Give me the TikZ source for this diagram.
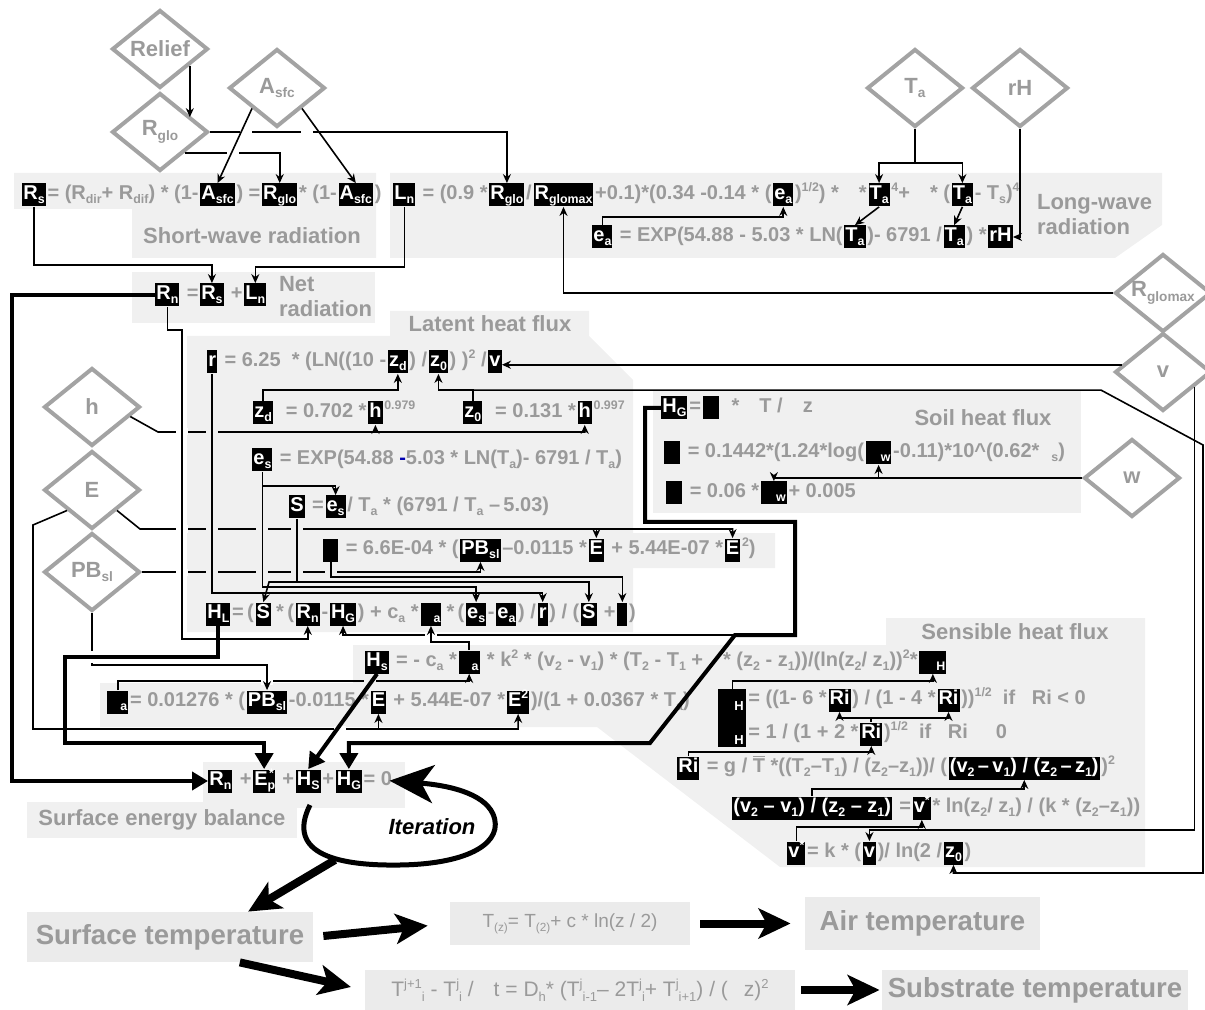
\documentclass[tikz,border=0pt]{standalone}
\usepackage{fontspec}
\setmainfont{Liberation Sans}
\usetikzlibrary{shapes.geometric,positioning,arrows.meta}
\definecolor{txtgray}{HTML}{9A9A9A}
\definecolor{diagray}{HTML}{A3A3A3}
\definecolor{panel}{HTML}{F0F0F0}
\definecolor{panelb}{HTML}{EBEBEB}
\newcommand{\sbs}[1]{\raisebox{-0.2em}{\scalebox{0.62}{#1}}}
\newcommand{\sps}[1]{\raisebox{0.42em}{\scalebox{0.62}{#1}}}
\newcommand{\eqfont}{\bfseries\fontsize{10}{12}\selectfont}
\newcommand{\tbar}{\setbox0\hbox{T}\rlap{\rule[\dimexpr\ht0+0.8pt\relax]{\wd0}{0.7pt}}T}
\newcommand{\bridgegap}[2][white]{\fill[#1] (#2) ++(-6,-3.5) rectangle ++(12,7);}
\newcommand{\bridgegapv}[2][white]{\fill[#1] (#2) ++(-3.5,-6) rectangle ++(7,12);}
\tikzstyle{input} = [diamond, draw=diagray, line width=2pt, minimum width=48pt, minimum height=39pt, inner sep=0pt, text=txtgray, font=\bfseries\fontsize{11}{13}\selectfont]
\tikzstyle{var} = [fill=black, text=white, font=\eqfont, inner sep=0pt, inner xsep=0.5pt, text height=8pt, text depth=3.5pt]
\tikzstyle{eq} = [text=txtgray, font=\eqfont, inner sep=0pt, inner xsep=0.5pt, text height=8pt, text depth=3.5pt]
\tikzstyle{title} = [text=txtgray, font=\bfseries\fontsize{11}{12.5}\selectfont, align=left]
\tikzstyle{outbox} = [fill=panelb, text=txtgray, inner sep=0pt]
\tikzstyle{link} = [line width=0.8pt]
\tikzstyle{arrow} = [line width=0.8pt, -{Stealth[length=4.5pt,width=4pt]}]
\tikzstyle{fat} = [line width=2pt, -{Triangle[length=8pt,width=9pt]}]
\tikzstyle{bigarrow} = [line width=4pt, -{Stealth[length=16pt,width=15pt,inset=4pt]}]

\begin{document}
\begin{tikzpicture}[x=0.5pt, y=-0.5pt, node distance=0pt]
  \useasboundingbox (0,0) rectangle (1205,1010);

  \fill[panel] (14,173) -- (376,173) -- (376,258) -- (132,258) -- (132,209) -- (14,209) -- cycle;
  \fill[panel] (390,173) -- (1162,173) -- (1162,225) -- (1115,258) -- (390,258) -- cycle;
  \fill[panel] (132,272) rectangle (375,323);
  \fill[panel] (187,336) -- (390,336) -- (390,311) -- (589,311) -- (589,336) -- (633,380) -- (633,533) -- (775,533) -- (775,568) -- (633,568) -- (633,632) -- (187,632) -- cycle;
  \fill[panel] (653,390) rectangle (1081,513);
  \fill[panel] (353,645) -- (886,645) -- (886,618) -- (1145,618) -- (1145,867) -- (780,867) -- (597,727) -- (100,727) -- (100,683) -- (353,683) -- cycle;
  \fill[panel] (203,762) rectangle (405,808);
  \fill[panel] (27,802) rectangle (297,838);

  \node[input] (relief) at (160,49) {\makebox[0pt]{Relief}};
  \node[input] (rglo) at (160,132) {R\sbs{glo}};
  \node[input] (asfc) at (277,88) {A\sbs{sfc}};
  \node[input] (ta) at (915,88) {T\sbs{a}};
  \node[input] (rh) at (1020,88) {rH};
  \node[input] (rgmax) at (1163,293) {\makebox[0pt]{R\sbs{glomax}}};
  \node[input] (vd) at (1163,372) {v};
  \node[input] (wd) at (1132,478) {w};
  \node[input] (hd) at (92,407) {h};
  \node[input] (ed) at (92,490) {E};
  \node[input] (pbd) at (92,572) {PB\sbs{sl}};

  \node[var, anchor=west] (rs) at (22,195) {R\sbs{s}};
  \node[eq, right=of rs] (rs1) {= (R\sbs{dir}+ R\sbs{dif}) * (1-};
  \node[var, right=of rs1] (asfcA) {A\sbs{sfc}};
  \node[eq, right=of asfcA] (rs2) {) =\ };
  \node[var, right=of rs2] (rgloA) {R\sbs{glo}};
  \node[eq, right=of rgloA] (rs3) {* (1-};
  \node[var, right=of rs3] (asfcB) {A\sbs{sfc}};
  \node[eq, right=of asfcB] (rs4) {)};
  \node[title] (swlbl) at (252,236) {Short-wave radiation};

  \node[var, anchor=west] (ln) at (393,195) {L\sbs{n}};
  \node[eq, right=of ln] (ln1) {\ = (0.9 *\ };
  \node[var, right=of ln1] (rgloB) {R\sbs{glo}};
  \node[eq, right=of rgloB] (ln2) {/\ };
  \node[var, right=of ln2] (rgmaxB) {R\sbs{glomax}};
  \node[eq, right=of rgmaxB] (ln3) {+0.1)*(0.34 -0.14 * (};
  \node[var, right=of ln3] (eaA) {e\sbs{a}};
  \node[eq, right=of eaA] (ln4) {)\sps{1/2}) *\hspace{10pt}*\ };
  \node[var, right=of ln4] (taA) {T\sbs{a}};
  \node[eq, right=of taA] (ln5) {\sps{4}+\hspace{10pt}* (};
  \node[var, right=of ln5] (taB) {T\sbs{a}};
  \node[eq, right=of taB] (ln6) {- T\sbs{s})\sps{4}};

  \node[var, anchor=west] (eaB) at (592,237) {e\sbs{a}};
  \node[eq, right=of eaB] (ea1) {\ = EXP(54.88 - 5.03 * LN(};
  \node[var, right=of ea1] (taC) {T\sbs{a}};
  \node[eq, right=of taC] (ea2) {)- 6791 /\ };
  \node[var, right=of ea2] (taD) {T\sbs{a}};
  \node[eq, right=of taD] (ea3) {) *\ };
  \node[var, right=of ea3] (rhv) {rH};
  \node[title, anchor=west] (lwlbl) at (1030,215) {Long-wave\\radiation};

  \node[var, anchor=west] (rnA) at (155,295) {R\sbs{n}};
  \node[eq, right=of rnA] (rn1) {\ =\ };
  \node[var, right=of rn1] (rsB) {R\sbs{s}};
  \node[eq, right=of rsB] (rn2) {\ +\ };
  \node[var, right=of rn2] (lnB) {L\sbs{n}};
  \node[title, anchor=west] (netlbl) at (272,297) {Net\\radiation};

  \node[title] (lhlbl) at (490,324) {Latent heat flux};
  \node[var, anchor=west] (rA) at (207,362) {r};
  \node[eq, right=of rA] (r1) {\ = 6.25\ \ * (LN((10 -};
  \node[var, right=of r1] (zdA) {z\sbs{d}};
  \node[eq, right=of zdA] (r2) {) /};
  \node[var, right=of r2] (z0A) {z\sbs{0}};
  \node[eq, right=of z0A] (r3) {) )\sps{2} /};
  \node[var, right=of r3] (vA) {v};

  \node[var, anchor=west] (zdB) at (253,413) {z\sbs{d}};
  \node[eq, right=of zdB] (zd1) {\ \ = 0.702 *\ };
  \node[var, right=of zd1] (hA) {h};
  \node[eq, right=of hA] (zd2) {\sps{0.979}};
  \node[var, anchor=west] (z0B) at (463,413) {z\sbs{0}};
  \node[eq, right=of z0B] (z01) {\ \ = 0.131 *\ };
  \node[var, right=of z01] (hB) {h};
  \node[eq, right=of hB] (z02) {\sps{0.997}};

  \node[var, anchor=west] (esA) at (252,460) {e\sbs{s}};
  \node[eq, right=of esA] (es1) {\ = EXP(54.88 {\color{blue!70!black}-}5.03 * LN(T\sbs{a})- 6791 / T\sbs{a})};

  \node[var, anchor=west] (sA) at (289,507) {S};
  \node[eq, right=of sA] (s1) {\ =\ };
  \node[var, right=of s1] (esB) {e\sbs{s}};
  \node[eq, right=of esB] (s2) {/ T\sbs{a} * (6791 / T\sbs{a} \textendash\,5.03)};

  \node[var, anchor=west, minimum width=7.5pt] (epsA) at (323,550) {};
  \node[eq, right=of epsA] (ep1) {\ = 6.6E-04 * (};
  \node[var, right=of ep1] (pbA) {PB\sbs{sl}};
  \node[eq, right=of pbA] (ep2) {\textendash0.0115 *\ };
  \node[var, right=of ep2] (eA) {E};
  \node[eq, right=of eA] (ep3) {\ + 5.44E-07 *\ };
  \node[var, right=of ep3] (e2A) {E};
  \node[eq, right=of e2A] (ep4) {\sps{2})};

  \node[var, anchor=west] (hl) at (206,614) {H\sbs{L}};
  \node[eq, right=of hl] (hl1) {=\,(};
  \node[var, right=of hl1] (sB) {S};
  \node[eq, right=of sB] (hl2) {\,*\,(};
  \node[var, right=of hl2] (rnB) {R\sbs{n}};
  \node[eq, right=of rnB] (hl3) {-};
  \node[var, right=of hl3] (hgA) {H\sbs{G}};
  \node[eq, right=of hgA] (hl4) {) + c\sbs{a} *\ };
  \node[var, right=of hl4] (rhoA) {\hspace{6pt}\sbs{a}};
  \node[eq, right=of rhoA] (hl5) {\,*\,(};
  \node[var, right=of hl5] (esC) {e\sbs{s}};
  \node[eq, right=of esC] (hl6) {-};
  \node[var, right=of hl6] (eaC) {e\sbs{a}};
  \node[eq, right=of eaC] (hl7) {) /};
  \node[var, right=of hl7] (rB) {r};
  \node[eq, right=of rB] (hl8) {) / (};
  \node[var, right=of hl8] (sC) {S};
  \node[eq, right=of sC] (hl9) {\ +\ };
  \node[var, right=of hl9, minimum width=5pt] (epsB) {};
  \node[eq, right=of epsB] (hl10) {)};

  \node[var, anchor=west] (hs) at (365,662) {H\sbs{s}};
  \node[eq, right=of hs] (hs1) {\ = - c\sbs{a} *\ };
  \node[var, right=of hs1] (rhoB) {\hspace{6pt}\sbs{a}};
  \node[eq, right=of rhoB] (hs2) {\ * k\sps{2} * (v\sbs{2} - v\sbs{1}) * (T\sbs{2} - T\sbs{1} +\hspace{10pt}* (z\sbs{2} - z\sbs{1}))/(ln(z\sbs{2}/ z\sbs{1}))\sps{2}*\ };
  \node[var, right=of hs2] (phiA) {\hspace{8pt}\sbs{H}};

  \node[var, anchor=west] (rhoC) at (107,702) {\hspace{6pt}\sbs{a}};
  \node[eq, right=of rhoC] (ro1) {= 0.01276 * (};
  \node[var, right=of ro1] (pbB) {PB\sbs{sl}};
  \node[eq, right=of pbB] (ro2) {-0.0115 *\ };
  \node[var, right=of ro2] (eB) {E};
  \node[eq, right=of eB] (ro3) {\ + 5.44E-07 *\ };
  \node[var, right=of ro3] (e2B) {E\sps{2}};
  \node[eq, right=of e2B] (ro4) {)/(1 + 0.0367 * T\sbs{a})};

  \node[title] (senlbl) at (1015,632) {Sensible heat flux};
  \node[var, anchor=north west, minimum width=14pt, minimum height=29pt] (phiB) at (718,689) {};
  \node[text=white, font=\bfseries\fontsize{6.5}{7}\selectfont, inner sep=0pt] (phiH1) at (739,706) {H};
  \node[text=white, font=\bfseries\fontsize{6.5}{7}\selectfont, inner sep=0pt] (phiH2) at (739,740) {H};
  \node[eq, anchor=west] (ph1) at (747,700) {= ((1- 6 *\ };
  \node[var, right=of ph1] (riA) {Ri};
  \node[eq, right=of riA] (ph2) {) / (1 - 4 *\ };
  \node[var, right=of ph2] (riB) {Ri};
  \node[eq, right=of riB] (ph3) {))\sps{1/2}\ \ if\ \ \ Ri < 0};
  \node[eq, anchor=west] (ph4) at (747,734) {= 1 / (1 + 2 *\ };
  \node[var, right=of ph4] (riC) {Ri};
  \node[eq, right=of riC] (ph5) {)\sps{1/2}\ \ if\ \ \ Ri\hspace{14pt}0};

  \node[var, anchor=west] (riD) at (677,768) {Ri};
  \node[eq, right=of riD] (ri1) {\ = g / \tbar\ *((T\sbs{2}\textendash T\sbs{1}) / (z\sbs{2}\textendash z\sbs{1}))/ (};
  \node[var, right=of ri1] (dvA) {(v\sbs{2}\,\textendash\,v\sbs{1}) / (z\sbs{2}\,\textendash\,z\sbs{1})};
  \node[eq, right=of dvA] (ri2) {)\sps{2}};

  \node[var, anchor=west] (dvB) at (732,808) {(v\sbs{2} \textendash\ v\sbs{1}) / (z\sbs{2} \textendash\ z\sbs{1})};
  \node[eq, right=of dvB] (dv1) {\ =\ };
  \node[var, right=of dv1] (vsA) {v\sps{*}};
  \node[eq, right=of vsA] (dv2) {* ln(z\sbs{2}/ z\sbs{1}) / (k * (z\sbs{2}\textendash z\sbs{1}))};

  \node[var, anchor=west] (vsB) at (787,853) {v\sps{*}};
  \node[eq, right=of vsB] (vs1) {= k * (};
  \node[var, right=of vs1] (vB) {v};
  \node[eq, right=of vB] (vs2) {)/ ln(2 /\ };
  \node[var, right=of vs2] (z0C) {z\sbs{0}};
  \node[eq, right=of z0C] (vs3) {)};

  \node[var, anchor=west] (hgB) at (661,408) {H\sbs{G}};
  \node[eq, right=of hgB] (hg1) {=};
  \node[var, right=of hg1, minimum width=8pt] (lamA) {};
  \node[eq, right=of lamA] (hg2) {\ \ *\hspace{10pt}T /\hspace{10pt}z};
  \node[title] (shlbl) at (983,418) {Soil heat flux};
  \node[var, anchor=west, minimum width=8pt] (lamB) at (664,453) {};
  \node[eq, right=of lamB] (la1) {\ = 0.1442*(1.24*log(};
  \node[var, right=of la1] (thA) {\hspace{7pt}\sbs{w}};
  \node[eq, right=of thA] (la2) {-0.11)*10\textasciicircum(0.62*\hspace{6pt}\sbs{s})};
  \node[var, anchor=west, minimum width=8pt] (cB) at (666,493) {};
  \node[eq, right=of cB] (c1) {\ = 0.06 *\ };
  \node[var, right=of c1] (thB) {\hspace{7pt}\sbs{w}};
  \node[eq, right=of thB] (c2) {+ 0.005};

  \node[var, anchor=west] (rnC) at (208,781) {R\sbs{n}};
  \node[eq, right=of rnC] (sb1) {\ +\ };
  \node[var, right=of sb1] (epC) {E\sbs{p}\kern-0.3em\sps{*}};
  \node[eq, right=of epC] (sb2) {\ +};
  \node[var, right=of sb2] (hsC) {H\sbs{S}};
  \node[eq, right=of hsC] (sb3) {+};
  \node[var, right=of sb3] (hgC) {H\sbs{G}};
  \node[eq, right=of hgC] (sb4) {= 0};
  \node[title, font=\bfseries\fontsize{11}{12}\selectfont] (seblbl) at (162,820) {Surface energy balance};
  \node[font=\bfseries\itshape\fontsize{11}{13}\selectfont] (iterlbl) at (432,827) {Iteration};

  \node[outbox, font=\bfseries\fontsize{13.8}{15}\selectfont, minimum width=143pt, minimum height=25pt] (surf) at (170,937) {Surface temperature};
  \node[outbox, font=\fontsize{9.5}{10}\selectfont, minimum width=120pt, minimum height=21.5pt] (tz) at (570,923.5) {T\sbs{(z)}= T\sbs{(2)}+ c * ln(z / 2)};
  \node[outbox, font=\bfseries\fontsize{13.8}{15}\selectfont, minimum width=117.5pt, minimum height=26.5pt] (air) at (922.5,923.5) {Air temperature};
  \node[outbox, font=\fontsize{10.5}{11}\selectfont, minimum width=215pt, minimum height=20pt] (tj) at (580,990) {T\sps{j+1}\sbs{i} - T\sps{j}\sbs{i} /\hspace{10pt}t = D\sbs{h}* (T\sps{j}\sbs{i-1}\textendash\ 2T\sps{j}\sbs{i}+ T\sps{j}\sbs{i+1}) / (\hspace{8pt}z)\sps{2}};
  \node[outbox, font=\bfseries\fontsize{13.8}{15}\selectfont, minimum width=153pt, minimum height=20pt] (sub) at (1035,990) {Substrate temperature};

  \coordinate (hgbend) at (735,635);
  \coordinate (loopstart) at (310,805);
  \coordinate (loopbot) at (335,860);

  \draw[arrow] (rglo.-40) -| (rgloA.north);
  \draw[arrow] (rglo.east) -| (rgloB.north);
  \draw[arrow] (hd.-14) -- (158,432) -| (hB.south);
  \draw[arrow] (hA.south |- 0,432) -- (hA.south);
  \draw[arrow] (ed.south east) -- (140,529) -| (e2A.north);
  \draw[arrow] (eA.north |- 0,529) -- (eA.north);
  \draw[arrow] (pbd.east) -| (pbA.south);
  \draw[arrow] (hgbend) -| (hgA.south);
  \draw[arrow] (rhoC.north) -- (rhoC.north |- 0,681) -| (rhoB.south);
  \draw[arrow] (ed.south west) -- (33,525) -- (33,729) -| (e2B.south);
  \draw[arrow] (eB.south |- 0,729) -- (eB.south);

  \bridgegap{246,132}
  \bridgegap{307,132}
  \bridgegap{233,152}
  \bridgegap{182,432}
  \bridgegap[panel]{rA.south |- 0,432}
  \bridgegap{182,529}
  \bridgegap[panel]{rA.south |- 0,529}
  \bridgegap[panel]{esA.south |- 0,529}
  \bridgegap[panel]{sA.south |- 0,529}
  \bridgegap{182,572}
  \bridgegap[panel]{rA.south |- 0,572}
  \bridgegap[panel]{esA.south |- 0,572}
  \bridgegap[panel]{sA.south |- 0,572}
  \bridgegap[panel]{epsA.south |- 0,572}
  \bridgegap{rhoA.south |- 0,635}
  \bridgegap{pbB.north |- 0,681}
  \bridgegap[panel]{370,681}
  \bridgegap{340,729}

  \draw[arrow] (pbd.south) -- (92,665) -| (pbB.north);
  \bridgegapv{92,657}
  \draw[arrow] (relief.-29) -- (relief.-29 |- rglo.25);
  \draw[arrow] (asfc.south west) -- (asfcA.north);
  \draw[arrow] (asfc.south east) -- (asfcB.north);
  \draw[arrow] (rs.south) -- (rs.south |- 0,265) -| (rsB.north);
  \draw[arrow] (ln.south) -- (ln.south |- 0,267) -| (lnB.north);
  \draw[link] (ta.south) -- ++(0,34) coordinate (tafork);
  \draw[arrow] (tafork) -| (taA.north);
  \draw[arrow] (tafork) -| (taB.north);
  \draw[arrow] (taA.south) -- (taC.north);
  \draw[arrow] (taB.south) -- (taD.north);
  \draw[arrow] (rh.south) |- (rhv.east);
  \draw[arrow] (eaB.north) -- ++(0,-8) -| (eaA.south);
  \draw[arrow] (rgmax.west) -| (rgmaxB.south);
  \draw[arrow] (rnA.south) -- (rnA.south |- 0,330) -- (182,330) |- (rnB.south |- 0,639) -- (rnB.south);
  \draw[arrow] (vd.170) -- (vd.170 -| vA.east);
  \draw[arrow] (zdB.north) -- ++(0,-11) -| (zdA.south);
  \draw[arrow] (z0B.north) -- ++(0,-11) coordinate (z0fork) -| (z0A.south);
  \draw[arrow] (z0fork) -- (z0fork -| 1101,0) -- (1203,445) |- (z0C.south |- 0,873) -- (z0C.south);
  \draw[arrow] (vd.-26) -- (vd.-26 |- 0,830) -| (vB.north);
  \draw[arrow] (esA.south) -- ++(0,14) -| (esB.north);
  \draw[arrow] (esA.south) -- (esA.south |- 0,587) -| (esC.north);
  \draw[link] (sA.south) -- (sA.south |- 0,582) coordinate (sfork);
  \draw[arrow] (sfork) -| (sC.north);
  \draw[arrow] (sfork) -- ++(-28,0) -- (sB.north);
  \draw[arrow] (rA.south) -- (rA.south |- 0,593) -| (rB.north);
  \draw[arrow] (epsA.south) -- ++(0,15) -| (epsB.north);
  \draw[arrow] (rhoB.north) -- ++(0,-8) -| (rhoA.south);
  \draw[arrow] (phiB.north) -- ++(0,-8) -| (phiA.south);
  \draw[arrow] (riD.north) -- ++(0,-4) -| (riC.south);
  \draw[link] (riC.north) -- ++(0,-4) coordinate (rifork);
  \draw[arrow] (rifork) -| (riA.south);
  \draw[arrow] (rifork) -| (riB.south);
  \draw[arrow] (dvB.north) -- ++(0,-7) -| (dvA.south);
  \draw[arrow] (vsB.north) -- ++(0,-14) -| (vsA.south);
  \draw[arrow] (wd.west) -| (thB.north);
  \draw[arrow] (thA.south |- wd.west) -- (thA.south);

  \draw[fat] (rnA.west) -- (12,295) |- (rnC.west);
  \draw[fat] (hl.south) -- (hl.south |- 0,657) -- (65,657) |- (epC.north |- 0,743) -- (epC.north);
  \draw[fat] (hs.south) -- (hsC.north);
  \draw[fat] (hgB.west) -- (645,408) -- (645,522) -- (795,522) -- (795,635) -- (hgbend) -- (650,743) -| (hgC.north);

  \draw[line width=2.5pt, -{Stealth[length=22pt,width=19pt,inset=6pt]}, shorten >=-2pt] (loopstart) .. controls (285,855) and (340,866) .. (400,865) .. controls (470,864) and (505,842) .. (493,814) .. controls (483,792) and (445,785) .. (sb4.east);
  \draw[bigarrow] (loopbot) -- (surf.18);
  \draw[bigarrow, shorten <=5pt, shorten >=11pt] (surf.east) -- (tz.west);
  \draw[bigarrow, shorten <=5pt, shorten >=7pt] (tz.east) -- (air.west);
  \draw[bigarrow, shorten >=7pt] (surf.-20) -- (tj.west);
  \draw[bigarrow, shorten <=3pt, shorten >=1pt] (tj.east) -- (sub.west);
\end{tikzpicture}
\end{document}
